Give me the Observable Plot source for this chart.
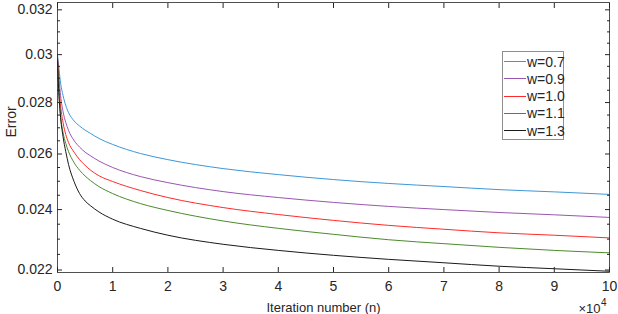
<!DOCTYPE html>
<html>
<head>
<meta charset="utf-8">
<script src="https://cdn.jsdelivr.net/npm/d3@7"></script>
<script src="https://cdn.jsdelivr.net/npm/@observablehq/plot@0.6"></script>
<style>
  html, body { margin: 0; padding: 0; background: #fff; }
  #wrap { position: relative; width: 618px; height: 314px; font-family: "Liberation Sans", Arial, sans-serif; color: #262626; }
  #legend { position: absolute; left: 502px; top: 51px; width: 62px; height: 89px; border: 1px solid #8f8f8f; background: #fff; box-sizing: border-box; }
  .row { position: absolute; left: 1px; height: 16px; display: flex; align-items: center; font-size: 14px; white-space: nowrap; }
  .row span.sw { display: inline-block; width: 22px; height: 0; border-top: 1px solid; margin-right: 1px; }
</style>
</head>
<body>
<div id="wrap"></div>
<script>
// iteration number in units of 10^4
const iterations = [0, 0.02, 0.05, 0.1, 0.15, 0.2, 0.3, 0.4, 0.5, 0.6, 0.75, 1, 1.5, 2, 3, 4, 5, 6, 7, 8, 9, 10];
const err07 = [0.02996,0.02954,0.02890,0.02829,0.02788,0.02760,0.02727,0.02707,0.02691,0.02678,0.02659,0.02636,0.02602,0.02579,0.02546,0.02524,0.02506,0.02492,0.02481,0.02470,0.02462,0.02453];
const err09 = [0.02992,0.02924,0.02841,0.02764,0.02721,0.02690,0.02651,0.02626,0.02607,0.02593,0.02574,0.02550,0.02517,0.02495,0.02463,0.02442,0.02425,0.02411,0.02400,0.02390,0.02382,0.02373];
const err10 = [0.02988,0.02890,0.02800,0.02721,0.02674,0.02643,0.02607,0.02579,0.02558,0.02540,0.02520,0.02499,0.02467,0.02442,0.02407,0.02383,0.02363,0.02346,0.02333,0.02321,0.02313,0.02304];
const err11 = [0.02983,0.02865,0.02760,0.02682,0.02640,0.02609,0.02568,0.02540,0.02519,0.02502,0.02481,0.02456,0.02421,0.02397,0.02361,0.02336,0.02316,0.02298,0.02285,0.02273,0.02263,0.02255];
const err13 = [0.02975,0.02857,0.02756,0.02666,0.02609,0.02561,0.02499,0.02456,0.02430,0.02413,0.02392,0.02367,0.02336,0.02313,0.02283,0.02263,0.02247,0.02234,0.02223,0.02212,0.02204,0.02196];
const seriesNames = ["w=0.7", "w=0.9", "w=1.0", "w=1.1", "w=1.3"];
const seriesColors = ["#3d97d6", "#9a56b0", "#ff2a2a", "#4b8b2b", "#1a1a1a"];
const xTicks = [0,1,2,3,4,5,6,7,8,9,10];
const yMajorTicks = [0.022, 0.024, 0.026, 0.028, 0.03, 0.032];
const yMinorTicks = [0.0225,0.023,0.0235,0.0245,0.025,0.0255,0.0265,0.027,0.0275,0.0285,0.029,0.0295,0.0305,0.031,0.0315];
const xLabel = "Iteration number (n)";
const yLabel = "Error";
const xExponentBase = "×10";
const xExponent = "4";

const allSeries = [err07, err09, err10, err11, err13];
const rows = [];
allSeries.forEach((arr, s) => arr.forEach((v, i) => rows.push({n: iterations[i], err: v, series: seriesNames[s]})));

const axisColor = "#262626";
const chart = Plot.plot({
  width: 618, height: 314,
  marginLeft: 57, marginRight: 9, marginTop: 2, marginBottom: 42,
  style: {fontFamily: "'Liberation Sans', Arial, sans-serif", fontSize: "14px", color: axisColor, background: "white"},
  x: {domain: [0, 10]},
  y: {type: "log", domain: [0.021921, 0.03234]},
  color: {domain: seriesNames, range: seriesColors},
  marks: [
    Plot.line(rows, {x: "n", y: "err", z: "series", stroke: "series", strokeWidth: 1, curve: "monotone-x"}),
    Plot.axisX({anchor: "bottom", ticks: xTicks, tickSize: -5, text: null, label: null, stroke: axisColor}),
    Plot.axisX({anchor: "top", ticks: xTicks, tickSize: -5, text: null, label: null, stroke: axisColor}),
    Plot.axisX({anchor: "bottom", ticks: xTicks, tickSize: 0, tickPadding: 9, label: null, fontSize: 14, tickFormat: d => String(d), fill: axisColor}),
    Plot.axisY({anchor: "left", ticks: yMajorTicks, tickSize: -5, text: null, label: null, stroke: axisColor}),
    Plot.axisY({anchor: "right", ticks: yMajorTicks, tickSize: -5, text: null, label: null, stroke: axisColor}),
    Plot.axisY({anchor: "left", ticks: yMinorTicks, tickSize: -3, text: null, label: null, stroke: axisColor}),
    Plot.axisY({anchor: "right", ticks: yMinorTicks, tickSize: -3, text: null, label: null, stroke: axisColor}),
    Plot.axisY({anchor: "left", ticks: yMajorTicks, tickSize: 0, tickPadding: 5, label: null, fontSize: 14, tickFormat: d => String(+d.toFixed(3)), fill: axisColor}),
    Plot.text([xLabel], {frameAnchor: "bottom", text: d => d, dy: 39, dx: -10, fontSize: 13, fill: axisColor}),
    Plot.text([yLabel], {frameAnchor: "left", text: d => d, dx: -46, rotate: -90, fontSize: 14, fill: axisColor}),
    Plot.text([xExponentBase], {frameAnchor: "bottom-right", text: d => d, dy: 40, dx: -9, fontSize: 13, fill: axisColor}),
    Plot.text([xExponent], {frameAnchor: "bottom-right", text: d => d, dy: 33, dx: -3, fontSize: 10, fill: axisColor}),
    Plot.frame({stroke: axisColor, strokeWidth: 0.8})
  ]
});
const wrap = document.getElementById("wrap");
wrap.appendChild(chart);

const legend = document.createElement("div");
legend.id = "legend";
seriesNames.forEach((name, i) => {
  const r = document.createElement("div");
  r.className = "row";
  r.style.top = (1.5 + i * 17.3) + "px";
  const sw = document.createElement("span");
  sw.className = "sw";
  sw.style.borderTopColor = seriesColors[i];
  r.appendChild(sw);
  const t = document.createElement("span");
  t.textContent = name;
  r.appendChild(t);
  legend.appendChild(r);
});
wrap.appendChild(legend);
</script>
</body>
</html>
